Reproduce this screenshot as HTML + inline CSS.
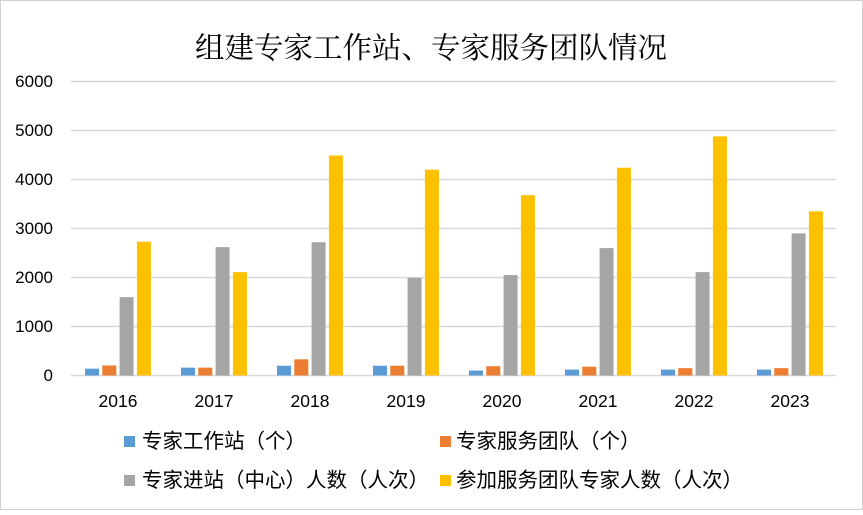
<!DOCTYPE html><html><head><meta charset="utf-8"><style>
body{margin:0;width:863px;height:510px;background:#fff;overflow:hidden}
svg text{font-family:"Liberation Sans","Noto Sans CJK SC",sans-serif}
</style></head><body>
<svg width="863" height="510" xmlns="http://www.w3.org/2000/svg">
<rect x="0.5" y="0.5" width="862" height="509" fill="#fff" stroke="#d0d0d0"/>
<text x="431" y="58" text-anchor="middle" font-size="29.5" style="font-family:'Noto Serif CJK SC',serif" fill="#000">组建专家工作站、专家服务团队情况</text>
<g stroke="#d9d9d9" stroke-width="1.5">
<line x1="71" x2="836" y1="81.5" y2="81.5"/><line x1="71" x2="836" y1="130.5" y2="130.5"/>
<line x1="71" x2="836" y1="179.5" y2="179.5"/><line x1="71" x2="836" y1="228.5" y2="228.5"/>
<line x1="71" x2="836" y1="277.5" y2="277.5"/><line x1="71" x2="836" y1="326.5" y2="326.5"/>
<line x1="71" x2="836" y1="375.5" y2="375.5"/></g>
<g font-size="17" fill="#000" text-anchor="end">
<text x="53" y="87">6000</text><text x="53" y="136">5000</text><text x="53" y="185">4000</text>
<text x="53" y="234">3000</text><text x="53" y="283">2000</text><text x="53" y="332">1000</text><text x="53" y="381">0</text></g>
<g id="bars"></g>
<g font-size="17.5" fill="#000" text-anchor="middle" id="xl"></g>
<g font-size="20.5" fill="#000">
<rect x="124" y="436" width="11" height="11" fill="#5b9bd5"/><text x="142" y="448">专家工作站（个）</text>
<rect x="440" y="436" width="11" height="11" fill="#ed7d31"/><text x="456" y="448">专家服务团队（个）</text>
<rect x="124" y="475" width="11" height="11" fill="#a5a5a5"/><text x="142" y="487">专家进站（中心）人数（人次）</text>
<rect x="440" y="475" width="11" height="11" fill="#ffc000"/><text x="456" y="487">参加服务团队专家人数（人次）</text>
</g>
</svg>
<script>
var d=[[140,205,1600,2730],[160,160,2620,2110],[200,330,2720,4490],[200,200,1990,4200],[100,190,2050,3680],[120,180,2600,4240],[120,150,2110,4880],[120,150,2900,3350]];
var c=["#5b9bd5","#ed7d31","#a5a5a5","#ffc000"],ns="http://www.w3.org/2000/svg",g=document.getElementById("bars"),xl=document.getElementById("xl");
d.forEach(function(r,i){var x0=85+96*i;r.forEach(function(v,j){var h=v*0.049;var e=document.createElementNS(ns,"rect");
e.setAttribute("x",x0+j*17.3);e.setAttribute("y",375.5-h);e.setAttribute("width",14);e.setAttribute("height",h);e.setAttribute("fill",c[j]);g.appendChild(e);});
var t=document.createElementNS(ns,"text");t.setAttribute("x",118+96*i);t.setAttribute("y",407);t.textContent=2016+i;xl.appendChild(t);});
</script>
</body></html>
